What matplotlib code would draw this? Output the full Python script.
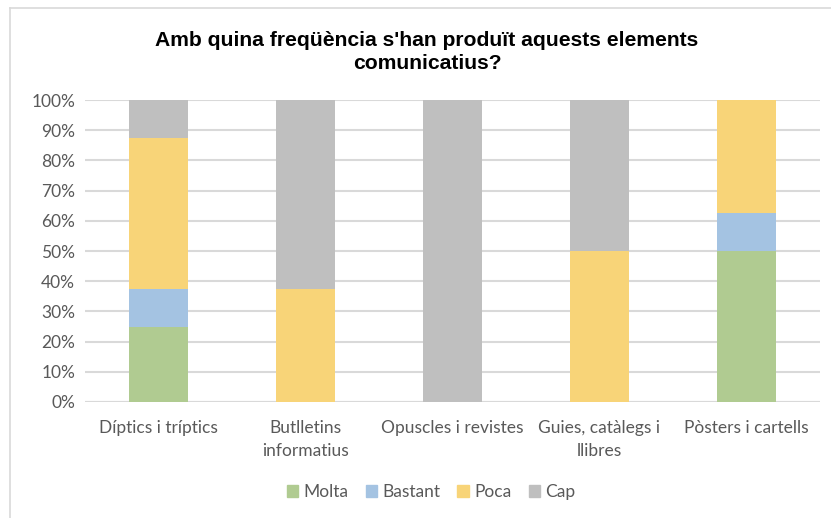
import matplotlib
matplotlib.use("Agg")
import matplotlib.pyplot as plt
from matplotlib.patches import Rectangle
from matplotlib.lines import Line2D
import numpy as np

categories = ["Díptics i tríptics", "Butlletins\ninformatius", "Opuscles i revistes",
              "Guies, catàlegs i\nllibres", "Pòsters i cartells"]
series_names = ["Molta", "Bastant", "Poca", "Cap"]
molta = [25, 0, 0, 0, 50]
bastant = [12.5, 0, 0, 0, 12.5]
poca = [50, 37.5, 0, 50, 37.5]
cap = [12.5, 62.5, 100, 50, 0]
colors = ["#B0CB91", "#A4C3E2", "#F8D478", "#BFBFBF"]
yticks = [0, 10, 20, 30, 40, 50, 60, 70, 80, 90, 100]

W, H = 831, 518
fig = plt.figure(figsize=(W/100, H/100), dpi=100)
ax = fig.add_axes([85/W, 1-402/H, (820-85)/W, (402-100)/H])

x = np.arange(len(categories))
bottom = np.zeros(len(categories))
for name, vals, c in zip(series_names, [molta, bastant, poca, cap], colors):
    ax.bar(x, vals, 0.4, bottom=bottom, color=c, label=name, zorder=3)
    bottom += np.array(vals)

ax.set_xlim(-0.5, len(categories)-0.5)
ax.set_ylim(0, 100)
ax.set_yticks(yticks)
ax.set_yticklabels([f"{v}%" for v in yticks])
ax.set_xticks(x)
ax.set_xticklabels(categories, linespacing=1.55)
for s in ax.spines.values():
    s.set_visible(False)
ax.grid(axis="y", color="#D9D9D9", linewidth=1.5, zorder=0)
ax.tick_params(length=0, labelsize=12.5, colors="#595959", pad=7)
ax.tick_params(axis="x", pad=13)
for lab in ax.get_xticklabels() + ax.get_yticklabels():
    lab.set_family("Lato")
    lab.set_color("#595959")
ax.axhline(0, color="#D9D9D9", linewidth=1.5, zorder=2)

fig.text(427/W, 1-52/H, "Amb quina freqüència s'han produït aquests elements\ncomunicatius?",
         ha="center", va="center", fontsize=15.2, fontweight="bold",
         family="Liberation Sans", color="black", linespacing=1.3)

handles = [Rectangle((0, 0), 1, 1, color=c) for c in colors]
leg = fig.legend(handles, series_names, loc="center", bbox_to_anchor=(431/W, 1-492/H),
                 ncol=4, frameon=False, handlelength=0.65, handleheight=0.65,
                 handletextpad=0.3, columnspacing=1.0, prop={"family": "Lato", "size": 12.5})
for t in leg.get_texts():
    t.set_color("#595959")

fig.add_artist(Line2D([10/W, 10/W], [0, 1-8/H], color="#D9D9D9", linewidth=1.2))
fig.add_artist(Line2D([10/W, 1], [1-8/H, 1-8/H], color="#D9D9D9", linewidth=1.2))

fig.savefig("out.png", dpi=100)
